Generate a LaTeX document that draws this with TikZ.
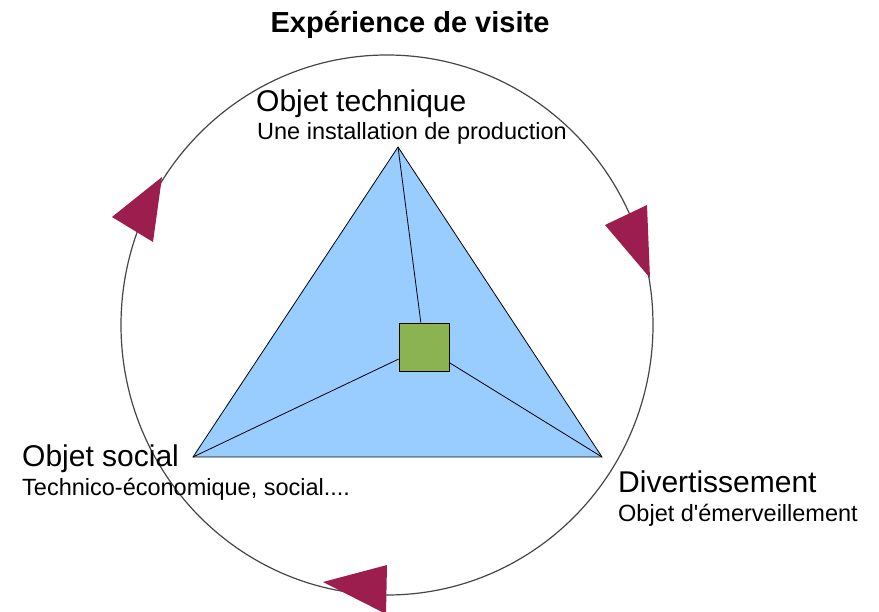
\documentclass[tikz,border=0pt]{standalone}
\usepackage{fontspec}
\setmainfont{Liberation Sans}
\usetikzlibrary{calc}
\definecolor{skyblue}{RGB}{153,204,255}
\definecolor{leafgreen}{RGB}{140,179,82}
\definecolor{crimson}{RGB}{155,30,78}
\definecolor{ringgray}{RGB}{70,70,70}
\tikzset{
    ring/.style={draw=ringgray,line width=1.2pt},
    facet/.style={fill=skyblue,draw=black,line width=0.8pt},
    spoke/.style={draw=black,line width=0.8pt},
    corebox/.style={draw=black,fill=leafgreen,line width=0.9pt,minimum width=50pt,minimum height=48pt,inner sep=0pt},
    flowtip/.style={fill=crimson,draw=none},
    headlabel/.style={anchor=base west,inner sep=0pt,font=\fontsize{30}{36}\selectfont},
    sublabel/.style={anchor=base west,inner sep=0pt,font=\fontsize{23.5}{28}\selectfont},
    titlelabel/.style={anchor=base,inner sep=0pt,font=\fontsize{29}{34}\selectfont\bfseries}
}
\begin{document}
\begin{tikzpicture}[x=1pt,y=-1pt]
    \useasboundingbox (0,0) rectangle (879,612);
    % Cycle
    \draw[ring] (387,325) ellipse [x radius=266, y radius=270];
    \fill[flowtip] (162,177) -- (112,217) -- (153,242) -- cycle;
    \fill[flowtip] (650,278) -- (647,205) -- (605,225) -- cycle;
    \fill[flowtip] (323,582) -- (387,565) -- (386,614) -- cycle;
    % Triangle
    \coordinate (apex) at (398,147);
    \coordinate (social) at (193,457);
    \coordinate (fun) at (602,457);
    \draw[facet] (apex) -- (fun) -- (social) -- cycle;
    % Centre
    \node[corebox] (core) at (424,347) {};
    \draw[spoke] (apex) -- (core);
    \draw[spoke] (social) -- (core);
    \draw[spoke] (fun) -- (core);
    % Labels
    \node[titlelabel] (title) at (410,33) {Expérience de visite};
    \node[headlabel] (techhead) at (256,112) {Objet technique};
    \node[sublabel] (techsub) at (257,140) {Une installation de production};
    \node[headlabel] (sochead) at (22,467) {Objet social};
    \node[sublabel] (socsub) at (22,495) {Technico-économique, social....};
    \node[headlabel] (funhead) at (618,493) {Divertissement};
    \node[sublabel] (funsub) at (618,521) {Objet d\textquotesingle émerveillement};
\end{tikzpicture}
\end{document}
